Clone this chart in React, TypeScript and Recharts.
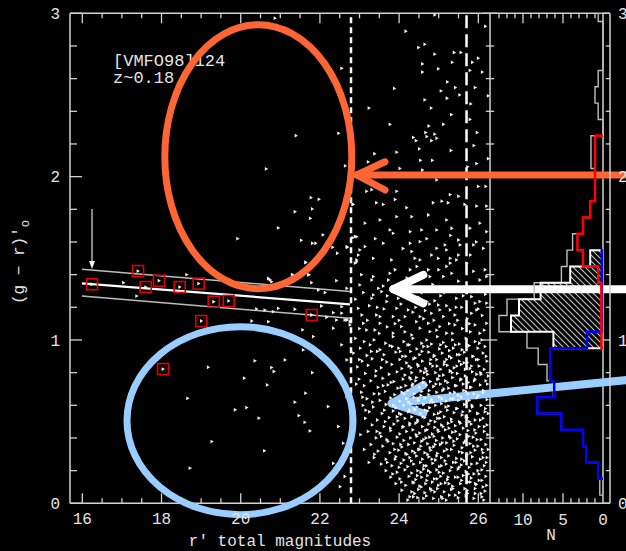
import React from 'react';
import { ComposedChart, XAxis, YAxis, Scatter, ReferenceLine, ReferenceDot, ReferenceArea } from 'recharts';

const FONT = '"Liberation Mono", "DejaVu Sans Mono", monospace';
const INK = '#e4e4e4';
const FRAME = '#d2d2d2';

// ---------- axes ----------
const MAG_DOMAIN: [number, number] = [15.689, 29.325];
const N_DOMAIN: [number, number] = [-0.875, 66.625];
const COLOR_DOMAIN: [number, number] = [0, 3];
const PANEL_SPLIT_MAG = 26.295;
const PX_PER_MAG = 39.6;
const PX_PER_COLOR = 163.33;
const PX_PER_N = 8;

const MAG_LABELS = [16, 18, 20, 22, 24, 26];
const MAG_TICKS = [16, 16.5, 17, 17.5, 18, 18.5, 19, 19.5, 20, 20.5, 21, 21.5, 22, 22.5, 23, 23.5, 24, 24.5, 25, 25.5, 26];
const COLOR_LABELS = [0, 1, 2, 3];
const COLOR_TICKS = [0, 0.2, 0.4, 0.6, 0.8, 1, 1.2, 1.4, 1.6, 1.8, 2, 2.2, 2.4, 2.6, 2.8, 3];
const N_LABELS = [0, 5, 10];
const N_TICKS = [1, 2, 3, 4, 5, 6, 7, 8, 9, 10, 11, 12, 13];

// ---------- galaxies: [r' mag, (g-r) colour] ----------
const FIELD_BRIGHT: number[][] = [
  [17.04, 1.351], [17.373, 1.269], [18.636, 1.40], [20.70, 1.377], [20.78, 1.357], [21.30, 1.398], [21.71, 1.398],
  [21.64, 1.473], [21.79, 1.351], [22.42, 1.363], [21.96, 1.306], [22.13, 1.29], [20.40, 1.19], [20.61, 1.183],
  [20.82, 1.173], [20.95, 1.194], [21.37, 1.188], [22.04, 1.208], [22.34, 1.167], [22.55, 1.204], [20.28, 1.116],
  [20.70, 1.112], [22.17, 1.139], [22.42, 1.122], [22.63, 1.122], [20.74, 1.368],
  [21.565, 1.062], [21.835, 1.021], [21.58, 0.939], [20.36, 0.872], [21.12, 0.878], [19.18, 0.833], [20.78, 0.831],
  [20.84, 0.807], [21.81, 0.80], [20.09, 0.766], [20.67, 0.725], [21.64, 0.674], [18.66, 0.643], [21.37, 0.619],
  [19.86, 0.572], [20.15, 0.586], [21.47, 0.537], [20.46, 0.521], [21.62, 0.496], [21.75, 0.443], [19.27, 0.378],
  [20.60, 0.321], [18.72, 0.215],
  [22.55, 1.164], [22.68, 1.123], [22.76, 1.113], [22.34, 1.072], [22.55, 0.97], [22.68, 0.878], [22.51, 0.756],
  [22.68, 0.653], [22.21, 0.592], [22.47, 0.47], [22.59, 0.368], [22.34, 0.245], [22.63, 0.164], [22.51, 0.102],
  [21.397, 2.251], [22.475, 2.265], [20.646, 2.047], [21.775, 1.871], [21.977, 1.861], [21.808, 1.802], [21.371, 1.785],
  [21.758, 1.745], [20.949, 1.686], [22.078, 1.643], [19.924, 1.62], [21.53, 1.61], [21.808, 1.592], [21.894, 1.592],
  [22.439, 1.531], [21.641, 1.476], [21.725, 1.40], [21.313, 1.40], [20.697, 1.375], [22.323, 1.567], [22.692, 1.567],
  [22.83, 1.831], [22.83, 1.626], [22.93, 1.632], [22.97, 1.52], [22.93, 1.479], [22.55, 2.663], [20.866, 2.97],
];

const FIELD_UPPER: number[][] = [
  [24.17, 2.89], [24.49, 2.79], [24.65, 2.81], [24.90, 2.75], [25.39, 2.76], [25.56, 2.76], [24.59, 2.69], [25.34, 2.70],
  [24.59, 2.64], [24.99, 2.66], [25.22, 2.58], [23.88, 2.54], [25.06, 2.525], [25.42, 2.545], [25.53, 2.50], [25.21, 2.48],
  [24.65, 2.47], [24.81, 2.42], [23.24, 2.42], [25.32, 2.38], [23.77, 2.32], [24.75, 2.31], [25.12, 2.32], [24.67, 2.27],
  [24.36, 2.24], [24.70, 2.245], [24.90, 2.26], [24.95, 2.235], [24.43, 2.22], [24.82, 2.22], [23.38, 2.14], [23.94, 2.15],
  [24.51, 2.17], [25.31, 2.16], [24.54, 2.10], [24.84, 2.10], [23.22, 2.09], [22.64, 2.066], [24.02, 2.05], [24.59, 2.04],
  [26.18, 2.92], [26.0, 2.725], [25.85, 2.70], [25.79, 2.65], [26.10, 2.64], [25.92, 2.545], [25.81, 2.445], [25.79, 2.35],
  [25.97, 2.27], [25.89, 2.19], [25.96, 2.08], [25.73, 2.06], [26.25, 2.11], [26.25, 2.495], [24.90, 2.99],
];

const FIELD_MID: number[][] = [
  [23.18, 1.91], [23.31, 1.92], [23.94, 1.91], [23.90, 1.86], [24.95, 1.98], [25.29, 1.89], [25.50, 1.88], [26.00, 1.94],
  [26.19, 1.94], [22.84, 1.83], [23.43, 1.84], [23.60, 1.83], [24.19, 1.81], [24.86, 1.84], [25.08, 1.85], [25.24, 1.84],
  [25.66, 1.83], [25.96, 1.82], [26.21, 1.82], [23.14, 1.715], [23.52, 1.735], [23.77, 1.674], [23.85, 1.653], [23.94, 1.755],
  [24.32, 1.755], [24.74, 1.765], [25.20, 1.735], [25.33, 1.684], [24.95, 1.674], [24.57, 1.674], [24.28, 1.663], [25.79, 1.684],
  [26.04, 1.715], [26.21, 1.663], [22.89, 1.633], [23.14, 1.572], [23.01, 1.551], [23.60, 1.592], [24.28, 1.592], [24.32, 1.541],
  [24.53, 1.602], [24.95, 1.561], [25.16, 1.582], [25.20, 1.551], [25.50, 1.612], [25.54, 1.582], [25.88, 1.582], [26.13, 1.561],
  [22.68, 1.572], [22.93, 1.49], [23.35, 1.50], [23.81, 1.49], [24.40, 1.50], [24.53, 1.49], [24.82, 1.52], [24.99, 1.50],
  [25.29, 1.50], [25.45, 1.49], [25.50, 1.52], [25.20, 1.45], [25.29, 1.47], [25.71, 1.47], [24.74, 1.43], [25.88, 1.42],
  [26.17, 1.43], [24.28, 1.43], [22.89, 1.47], [23.35, 1.388], [23.31, 1.367], [23.73, 1.367], [23.77, 1.408], [23.90, 1.43],
  [24.28, 1.347], [24.78, 1.388], [25.12, 1.388], [25.33, 1.408], [26.04, 1.367], [23.01, 1.337], [22.68, 1.316], [23.48, 1.316],
  [23.56, 1.296], [26.21, 1.388], [23.31, 1.255], [23.35, 1.276], [23.69, 1.235], [23.98, 1.255], [24.28, 1.265], [24.70, 1.235],
  [24.99, 1.214], [25.45, 1.255], [25.83, 1.265], [25.92, 1.225], [26.04, 1.235], [26.21, 1.225], [22.97, 1.194], [23.06, 1.153],
  [23.43, 1.153], [23.52, 1.143], [23.85, 1.143], [23.94, 1.194], [24.23, 1.184], [24.15, 1.143], [24.53, 1.143], [24.82, 1.163],
  [25.03, 1.184], [25.12, 1.143], [25.41, 1.153], [25.29, 1.184], [25.83, 1.163], [25.96, 1.184], [22.68, 1.123], [22.76, 1.092],
  [23.10, 1.102], [23.18, 1.061], [23.52, 1.102], [23.39, 1.061], [24.06, 1.082], [23.85, 1.041], [24.44, 1.112], [24.53, 1.072],
  [24.74, 1.102], [24.78, 1.051], [25.03, 1.082], [25.20, 1.041], [25.41, 1.092], [25.92, 1.092], [26.04, 1.041], [26.21, 1.102],
  [24.32, 1.031], [23.25, 1.21], [23.62, 1.19], [24.05, 1.22], [24.42, 1.20], [24.66, 1.18], [24.9, 1.24], [25.2, 1.21],
  [25.58, 1.20], [25.72, 1.13], [26.1, 1.15], [23.0, 1.07], [23.7, 1.08], [24.0, 1.12], [24.62, 1.13], [24.95, 1.06],
  [25.35, 1.04], [25.6, 1.07], [25.8, 1.05], [26.15, 1.06], [23.5, 1.04], [24.15, 1.05], [25.48, 1.12], [22.9, 1.25],
  [24.5, 1.26], [25.15, 1.29], [25.65, 1.32], [24.0, 1.30], [23.1, 1.29],
  [23.2, 1.12], [23.45, 1.2], [23.7, 1.27], [23.9, 1.1], [24.1, 1.27], [24.35, 1.17], [24.58, 1.29], [24.77, 1.22], [24.88, 1.12],
  [25.05, 1.27], [25.27, 1.1], [25.44, 1.2], [25.62, 1.27], [25.78, 1.1], [26.0, 1.19], [26.18, 1.28], [23.6, 1.33], [24.2, 1.38],
  [24.85, 1.34], [25.5, 1.36], [25.9, 1.31], [23.05, 1.4], [24.45, 1.45], [25.0, 1.43], [25.8, 1.52], [24.1, 1.56], [23.4, 1.62],
  [24.7, 1.62], [25.3, 1.64], [25.95, 1.6],
];

const FIELD_FAINT: number[][] = [
  [22.9, 1.01], [23.12, 0.99], [23.37, 1.0], [23.66, 0.98], [23.85, 1.02], [24.12, 0.99], [24.35, 1.01], [24.57, 0.98], [24.7, 1.0], [24.97, 1.02], [25.12, 0.985], [25.35, 1.0], [25.52, 0.975], [25.69, 1.01], [25.92, 0.99], [26.09, 1.0],
  [23.02, 0.95], [23.27, 0.97], [23.52, 0.94], [23.77, 0.965], [23.99, 0.95], [24.22, 0.97], [24.45, 0.945], [24.62, 0.96], [24.82, 0.975], [25.02, 0.945], [25.19, 0.96], [25.42, 0.97], [25.59, 0.94], [25.77, 0.965], [25.99, 0.95], [26.17, 0.96],
  [22.85, 0.92], [23.19, 0.905], [23.45, 0.93], [23.62, 0.91], [23.92, 0.925], [24.09, 0.9], [24.29, 0.93], [24.52, 0.91], [24.75, 0.925], [24.89, 0.905], [25.09, 0.92], [25.27, 0.935], [25.47, 0.91], [25.65, 0.925], [25.87, 0.9], [26.12, 0.92],
  [23.07, 0.87], [23.32, 0.885], [23.69, 0.865], [24.02, 0.88], [24.19, 0.86], [24.37, 0.885], [24.59, 0.87], [24.79, 0.855], [24.95, 0.88], [25.15, 0.865], [25.32, 0.89], [25.52, 0.87], [25.72, 0.86], [25.95, 0.88], [26.22, 0.87],
  [22.95, 0.835], [23.22, 0.845], [23.55, 0.83], [23.82, 0.85], [24.07, 0.825], [24.25, 0.84], [24.47, 0.85], [24.67, 0.825], [24.85, 0.84], [25.05, 0.82], [25.22, 0.845], [25.39, 0.83], [25.57, 0.85], [25.79, 0.825], [26.02, 0.84], [26.15, 0.82],
  [23.15, 0.795], [23.42, 0.81], [23.75, 0.79], [23.95, 0.805], [24.15, 0.785], [24.32, 0.8], [24.55, 0.81], [24.72, 0.79], [24.92, 0.8], [25.12, 0.785], [25.29, 0.81], [25.47, 0.795], [25.67, 0.78], [25.85, 0.805], [26.07, 0.79],
  [22.99, 0.76], [23.29, 0.75], [23.59, 0.765], [23.87, 0.745], [24.1, 0.76], [24.27, 0.77], [24.42, 0.75], [24.62, 0.765], [24.79, 0.745], [24.99, 0.76], [25.17, 0.75], [25.35, 0.77], [25.55, 0.755], [25.75, 0.74], [25.92, 0.76], [26.19, 0.75],
  [23.12, 0.72], [23.47, 0.71], [23.72, 0.725], [23.97, 0.705], [24.17, 0.72], [24.35, 0.73], [24.52, 0.71], [24.69, 0.725], [24.87, 0.715], [25.04, 0.73], [25.25, 0.705], [25.42, 0.72], [25.62, 0.73], [25.82, 0.71], [26.05, 0.725],
  [23.05, 0.68], [23.37, 0.67], [23.65, 0.685], [23.89, 0.665], [24.07, 0.68], [24.22, 0.69], [24.39, 0.67], [24.57, 0.685], [24.75, 0.665], [24.95, 0.68], [25.1, 0.69], [25.29, 0.675], [25.49, 0.66], [25.69, 0.685], [25.89, 0.67], [26.12, 0.68],
  [23.19, 0.64], [23.52, 0.63], [23.79, 0.645], [24.02, 0.625], [24.19, 0.64], [24.37, 0.65], [24.49, 0.63], [24.65, 0.645], [24.82, 0.635], [25.02, 0.65], [25.19, 0.625], [25.37, 0.64], [25.57, 0.65], [25.77, 0.63], [25.97, 0.645], [26.22, 0.635],
  [23.09, 0.6], [23.35, 0.59], [23.67, 0.605], [23.92, 0.585], [24.12, 0.6], [24.29, 0.61], [24.45, 0.59], [24.62, 0.605], [24.77, 0.585], [24.92, 0.6], [25.07, 0.61], [25.25, 0.595], [25.45, 0.58], [25.65, 0.605], [25.85, 0.59], [26.07, 0.6],
  [23.25, 0.56], [23.57, 0.55], [23.85, 0.565], [24.05, 0.545], [24.24, 0.56], [24.4, 0.57], [24.55, 0.55], [24.72, 0.565], [24.89, 0.545], [25.05, 0.56], [25.22, 0.57], [25.39, 0.555], [25.59, 0.54], [25.79, 0.565], [25.99, 0.55], [26.17, 0.56],
  [23.15, 0.52], [23.45, 0.51], [23.75, 0.525], [23.97, 0.505], [24.15, 0.52], [24.32, 0.53], [24.47, 0.51], [24.65, 0.525], [24.8, 0.505], [24.97, 0.52], [25.14, 0.53], [25.32, 0.515], [25.52, 0.5], [25.72, 0.525], [25.92, 0.51], [26.12, 0.52],
  [23.32, 0.48], [23.62, 0.47], [23.87, 0.485], [24.09, 0.465], [24.27, 0.48], [24.42, 0.49], [24.59, 0.47], [24.75, 0.485], [24.9, 0.465], [25.07, 0.48], [25.24, 0.49], [25.42, 0.475], [25.62, 0.46], [25.82, 0.485], [26.02, 0.47], [26.22, 0.48],
  [23.22, 0.44], [23.52, 0.43], [23.79, 0.445], [24.02, 0.425], [24.19, 0.44], [24.35, 0.45], [24.52, 0.43], [24.67, 0.445], [24.84, 0.425], [25.0, 0.44], [25.17, 0.45], [25.35, 0.435], [25.54, 0.42], [25.74, 0.445], [25.94, 0.43], [26.15, 0.44],
  [23.42, 0.4], [23.69, 0.39], [23.95, 0.405], [24.12, 0.385], [24.29, 0.4], [24.45, 0.41], [24.62, 0.39], [24.77, 0.405], [24.94, 0.385], [25.1, 0.4], [25.27, 0.41], [25.47, 0.395], [25.67, 0.38], [25.87, 0.405], [26.07, 0.39],
  [23.29, 0.36], [23.59, 0.35], [23.85, 0.365], [24.07, 0.345], [24.24, 0.36], [24.39, 0.37], [24.55, 0.35], [24.72, 0.365], [24.87, 0.345], [25.04, 0.36], [25.2, 0.37], [25.39, 0.355], [25.59, 0.34], [25.79, 0.365], [25.99, 0.35], [26.19, 0.36],
  [23.47, 0.32], [23.77, 0.31], [23.99, 0.325], [24.17, 0.305], [24.34, 0.32], [24.49, 0.33], [24.65, 0.31], [24.8, 0.325], [24.97, 0.305], [25.14, 0.32], [25.32, 0.33], [25.52, 0.315], [25.72, 0.3], [25.92, 0.325], [26.12, 0.31],
  [23.37, 0.28], [23.67, 0.27], [23.92, 0.285], [24.12, 0.265], [24.27, 0.28], [24.44, 0.29], [24.59, 0.27], [24.75, 0.285], [24.92, 0.265], [25.07, 0.28], [25.25, 0.29], [25.45, 0.275], [25.65, 0.26], [25.85, 0.285], [26.05, 0.27], [26.22, 0.28],
  [23.55, 0.24], [23.82, 0.23], [24.05, 0.245], [24.22, 0.225], [24.37, 0.24], [24.54, 0.25], [24.69, 0.23], [24.85, 0.245], [25.02, 0.225], [25.19, 0.24], [25.37, 0.25], [25.57, 0.235], [25.77, 0.22], [25.97, 0.245], [26.15, 0.23],
  [23.67, 0.2], [23.95, 0.19], [24.15, 0.205], [24.32, 0.185], [24.47, 0.2], [24.62, 0.21], [24.79, 0.19], [24.95, 0.205], [25.12, 0.185], [25.29, 0.2], [25.49, 0.21], [25.69, 0.195], [25.89, 0.18], [26.09, 0.205],
  [23.79, 0.16], [24.02, 0.15], [24.25, 0.165], [24.42, 0.145], [24.57, 0.16], [24.72, 0.17], [24.89, 0.15], [25.05, 0.165], [25.22, 0.145], [25.42, 0.16], [25.62, 0.17], [25.82, 0.155], [26.02, 0.14], [26.19, 0.165],
  [23.92, 0.12], [24.17, 0.11], [24.37, 0.125], [24.52, 0.105], [24.67, 0.12], [24.84, 0.13], [24.99, 0.11], [25.17, 0.125], [25.35, 0.105], [25.55, 0.12], [25.75, 0.13], [25.95, 0.115], [26.12, 0.1],
  [24.07, 0.08], [24.32, 0.07], [24.49, 0.085], [24.65, 0.065], [24.82, 0.08], [24.97, 0.09], [25.14, 0.07], [25.32, 0.085], [25.52, 0.065], [25.72, 0.08], [25.92, 0.09], [26.17, 0.075],
  [24.27, 0.04], [24.47, 0.035], [24.69, 0.045], [24.87, 0.03], [25.07, 0.04], [25.27, 0.05], [25.49, 0.035], [25.69, 0.045], [25.89, 0.03], [26.09, 0.04],
];

const FIELD_FAINT_EXTRA: number[][] = [
  [24.03, 0.93], [24.05, 0.71], [24.01, 0.55], [24.04, 0.36], [24.0, 0.22], [24.06, 0.13],
  [24.26, 0.97], [24.3, 0.83], [24.24, 0.62], [24.27, 0.49], [24.31, 0.26], [24.22, 0.02],
  [24.41, 0.89], [24.44, 0.77], [24.38, 0.58], [24.43, 0.42], [24.4, 0.31], [24.46, 0.17], [24.39, 0.06],
  [24.58, 0.93], [24.61, 0.74], [24.55, 0.66], [24.6, 0.53], [24.57, 0.38], [24.63, 0.23], [24.56, 0.1],
  [24.73, 0.96], [24.7, 0.81], [24.76, 0.69], [24.71, 0.45], [24.78, 0.34], [24.74, 0.2], [24.7, 0.14],
  [24.88, 0.9], [24.93, 0.73], [24.86, 0.62], [24.91, 0.5], [24.88, 0.41], [24.95, 0.29], [24.9, 0.07],
  [25.05, 0.97], [25.02, 0.78], [25.08, 0.64], [25.03, 0.52], [25.09, 0.37], [25.01, 0.19], [25.06, 0.12],
  [25.2, 0.88], [25.23, 0.74], [25.18, 0.59], [25.26, 0.46], [25.21, 0.33], [25.24, 0.16], [25.19, 0.02],
  [25.37, 0.95], [25.34, 0.8], [25.4, 0.68], [25.33, 0.5], [25.38, 0.38], [25.44, 0.25], [25.36, 0.09],
  [25.53, 0.91], [25.57, 0.76], [25.5, 0.63], [25.55, 0.49], [25.6, 0.31], [25.52, 0.22], [25.58, 0.14],
  [25.71, 0.97], [25.67, 0.82], [25.74, 0.67], [25.69, 0.53], [25.76, 0.41], [25.7, 0.29], [25.73, 0.06],
  [25.86, 0.9], [25.9, 0.75], [25.84, 0.6], [25.91, 0.45], [25.88, 0.35], [25.83, 0.24], [25.93, 0.12],
  [26.03, 0.98], [26.06, 0.8], [26.0, 0.66], [26.05, 0.51], [26.1, 0.33], [26.02, 0.18], [26.07, 0.06],
  [26.2, 0.9], [26.23, 0.73], [26.18, 0.58], [26.24, 0.42], [26.2, 0.25], [26.21, 0.11],
  [23.3, 0.93], [23.41, 0.78], [23.33, 0.62], [23.44, 0.44], [23.38, 0.3],
  [23.58, 0.88], [23.6, 0.72], [23.63, 0.57], [23.55, 0.41], [23.7, 0.25],
  [23.83, 0.96], [23.8, 0.74], [23.86, 0.6], [23.78, 0.46], [23.89, 0.33], [23.84, 0.18],
  [23.0, 0.88], [23.08, 0.65], [23.03, 0.42], [23.16, 0.57], [22.92, 0.73], [23.12, 0.33], [23.24, 0.25],
  [24.33, 0.72], [24.48, 0.64], [24.52, 0.33], [24.35, 0.13], [24.47, 0.5], [24.66, 0.57], [24.68, 0.4], [24.62, 0.03],
  [24.8, 0.62], [24.83, 0.27], [24.79, 0.09], [24.97, 0.76], [24.99, 0.55], [24.98, 0.45], [24.96, 0.15], [25.13, 0.7],
  [25.11, 0.47], [25.16, 0.26], [25.1, 0.03], [25.29, 0.81], [25.31, 0.64], [25.3, 0.4], [25.33, 0.22], [25.45, 0.72],
  [25.47, 0.58], [25.43, 0.44], [25.49, 0.16], [25.63, 0.69], [25.61, 0.56], [25.64, 0.37], [25.66, 0.09], [25.8, 0.71],
  [25.78, 0.5], [25.81, 0.31], [25.8, 0.13], [25.96, 0.79], [25.98, 0.55], [25.97, 0.39], [25.99, 0.2], [26.13, 0.69],
  [26.15, 0.47], [26.12, 0.28], [26.14, 0.02], [24.26, 0.57], [24.2, 0.3], [24.11, 0.47], [24.13, 0.67], [24.17, 0.9],
  [24.36, 0.04], [24.55, 0.19], [24.72, 0.3], [24.91, 0.36], [25.07, 0.23], [25.26, 0.12], [25.42, 0.05], [25.58, 0.27],
  [25.75, 0.18], [25.92, 0.06], [26.09, 0.14], [26.25, 0.33], [26.25, 0.55], [26.25, 0.78], [26.0, 0.88], [25.83, 0.84],
  [25.64, 0.86], [25.46, 0.84], [25.27, 0.9], [25.14, 0.85], [24.96, 0.84], [24.8, 0.88], [24.64, 0.8], [24.49, 0.84],
  [24.3, 0.76], [23.95, 0.53], [23.72, 0.38], [23.9, 0.27], [23.65, 0.5], [23.5, 0.67],
];

// brightest cluster galaxy candidates (red boxes)
const BCG: number[][] = [
  [16.245, 1.341], [17.407, 1.422], [17.601, 1.324], [17.937, 1.363], [18.46, 1.324], [18.939, 1.345],
  [19.318, 1.234], [19.697, 1.239], [19.005, 1.116], [21.793, 1.153], [18.038, 0.822],
];

// colour-magnitude relation (centre and +/- envelope): [mag, colour]
const CMR_MID = [[15.99, 1.347], [22.76, 1.218]];
const CMR_UP = [[15.99, 1.433], [22.76, 1.296]];
const CMR_LO = [[15.99, 1.269], [22.76, 1.133]];
const RS_MARKER = { mag: 16.245, from: 1.802, to: 1.434 };
const LIMIT_DOTTED = 22.785;
const LIMIT_DASHED = 25.702;

// ---------- colour histograms (N per 0.1 bin, bins from 3.0 down to 0.0) ----------
const COLOR_BINS = [3.0, 2.9, 2.8, 2.7, 2.6, 2.5, 2.4, 2.3, 2.2, 2.1, 2.0, 1.9, 1.8, 1.7, 1.6, 1.5, 1.4, 1.3, 1.2, 1.1, 1.0, 0.9, 0.8, 0.7, 0.6, 0.5, 0.4, 0.3, 0.2, 0.1, 0.0];
const BIN_HALF = 0.05;
const HIST_ALL = [0.6, 0, 0, 0, 0.6, 1.0, 0.6, 0, 1.5, 1.5, 1.0, 1.0, 1.6, 2.5, 3.8, 4.5, 5.2, 8.6, 12.0, 13.0, 9.5, 8.1, 7.0, 6.2, 8.2, 5.2, 2.5, 2.1, 0.6, 0.4, 0];
const HIST_RED_SEQ = [0, 0, 0, 0, 0, 0, 0, 0, 0, 0, 0, 0, 0, 0, 0, 1.6, 4.1, 7.8, 10.5, 11.5, 6.2, 0, 0, 0, 0, 0, 0, 0, 0, 0, 0];
const HIST_RED = [0, 0, 0, 0, 0, 0, 0, 0, 1.0, 1.0, 1.0, 1.0, 1.6, 2.5, 3.2, 2.5, 0.6, 0.2, 0.2, 0.2, 0.2, 0, 0, 0, 0, 0, 0, 0, 0, 0, 0];
const HIST_BLUE = [0, 0, 0, 0, 0, 0, 0, 0, 0, 0, 0, 0, 0, 0, 0, 0.15, 0.15, 0.15, 0.15, 0.15, 2.0, 6.6, 6.6, 6.1, 8.2, 5.2, 2.5, 2.1, 0.6, 0, 0];

// ---------- annotations (data coordinates) ----------
const ORANGE = '#ff6633';
const SKY = '#99ccff';
const ELLIPSE_RED = { mag: 20.444, color: 2.122, dMag: 2.361, dColor: 0.808 };
const ELLIPSE_BLUE = { mag: 19.982, color: 0.506, dMag: 2.854, dColor: 0.5755 };
const ARROW_RED = { tail: [30.1, 2.01], tip: [22.929, 2.01], arms: [[23.644, 2.091], [23.644, 1.918]] };
const ARROW_WHITE = { tail: [30.1, 1.311], tip: [23.854, 1.311], arms: [[24.611, 1.398], [24.611, 1.224]] };
const ARROW_BLUE = { tail: [30.1, 0.763], tip: [23.813, 0.612], arms: [[24.611, 0.724], [24.611, 0.551]] };

const toPts = (arr: number[][]) => arr.map(([m, c]) => ({ m, c }));

function stepOutline(values: number[]) {
  const first = values.findIndex((v) => v > 0);
  let last = values.length - 1;
  while (last >= 0 && values[last] <= 0) last--;
  const pts: { n: number; c: number }[] = [];
  pts.push({ n: 0, c: Math.min(3, COLOR_BINS[first] + BIN_HALF) });
  for (let i = first; i <= last; i++) {
    const hi = Math.min(3, COLOR_BINS[i] + BIN_HALF);
    const lo = Math.max(0, COLOR_BINS[i] - BIN_HALF);
    pts.push({ n: values[i], c: hi }, { n: values[i], c: lo });
  }
  pts.push({ n: 0, c: Math.max(0, COLOR_BINS[last] - BIN_HALF) });
  return pts;
}

const tri = (cx: number, cy: number) => `M${cx - 1.4},${cy - 1.9}L${cx + 1.9},${cy}L${cx - 1.4},${cy + 1.9}Z`;
const Galaxy = (p: any) => <path d={tri(p.cx, p.cy)} fill="#f4f4f4" />;
const BoxedGalaxy = (p: any) => (
  <g>
    <rect x={p.cx - 5.5} y={p.cy - 5.5} width={11} height={11} fill="none" stroke="#e00000" strokeWidth={1.6} />
    <path d={tri(p.cx, p.cy)} fill="#f4f4f4" />
  </g>
);
const NoMark = () => <g />;

const ellipseShape = (e: { dMag: number; dColor: number }, color: string) => (p: any) => (
  <ellipse cx={p.cx} cy={p.cy} rx={e.dMag * PX_PER_MAG} ry={e.dColor * PX_PER_COLOR} fill="none" stroke={color} strokeWidth={7} />
);
const ArrowDownHead = (p: any) => (
  <path d={`M${p.cx - 3},${p.cy - 8}L${p.cx + 3},${p.cy - 8}L${p.cx},${p.cy}Z`} fill="#f2f2f2" />
);

const axisTick = { fill: INK, fontSize: 16, fontFamily: FONT };
const RL = { xAxisId: 'm', yAxisId: 'c', ifOverflow: 'visible' as const };
const RN = { xAxisId: 'n', yAxisId: 'c', ifOverflow: 'visible' as const };

function arrow(a: { tail: number[]; tip: number[]; arms: number[][] }, color: string, w: number, key: string) {
  return [
    <ReferenceLine key={key + 's'} {...RL} segment={[{ x: a.tail[0], y: a.tail[1] }, { x: a.tip[0], y: a.tip[1] }]} stroke={color} strokeWidth={w} />,
    ...a.arms.map((arm, i) => (
      <ReferenceLine key={key + 'a' + i} {...RL} segment={[{ x: a.tip[0], y: a.tip[1] }, { x: arm[0], y: arm[1] }]} stroke={color} strokeWidth={w} strokeLinecap="round" />
    )),
  ];
}

export default function App() {
  const majorV = 12, minorV = 7, majorH = 10, minorH = 5;
  return (
    <div style={{ position: 'fixed', left: 0, top: 0, width: 626, height: 551, background: '#000', overflow: 'hidden' }}>
      <ComposedChart width={626} height={551} margin={{ top: 13.3, right: 0, bottom: 45.7, left: 0 }}>
        <defs>
          <pattern id="hatch" patternUnits="userSpaceOnUse" width={6} height={6}>
            <path d="M-1,-1L7,7M-1,5L1,7M5,-1L7,1" stroke="#c4c4c4" strokeWidth={1.1} />
          </pattern>
        </defs>
        <XAxis xAxisId="m" dataKey="m" type="number" domain={MAG_DOMAIN} allowDataOverflow ticks={MAG_LABELS} height={1}
          axisLine={{ stroke: FRAME, strokeWidth: 1.5 }} tickLine={false} tickMargin={3} tick={axisTick} interval={0} />
        <XAxis xAxisId="n" dataKey="n" type="number" domain={N_DOMAIN} reversed allowDataOverflow ticks={N_LABELS} height={1}
          axisLine={false} tickLine={false} tickMargin={3} tick={axisTick} interval={0} />
        <YAxis yAxisId="c" dataKey="c" type="number" domain={COLOR_DOMAIN} allowDataOverflow ticks={COLOR_LABELS} width={70}
          axisLine={{ stroke: FRAME, strokeWidth: 1.5 }} tickLine={false} tickMargin={4} tick={axisTick} interval={0} />
        <YAxis yAxisId="r" orientation="right" type="number" domain={COLOR_DOMAIN} allowDataOverflow ticks={COLOR_LABELS} width={16}
          axisLine={{ stroke: FRAME, strokeWidth: 1.5 }} tickLine={false} tickMargin={2} tick={axisTick} interval={0} />

        {/* frame */}
        <ReferenceLine {...RL} y={3} stroke={FRAME} strokeWidth={1.5} />
        <ReferenceLine {...RL} x={PANEL_SPLIT_MAG} stroke={FRAME} strokeWidth={1.5} />
        <ReferenceLine {...RN} x={0} stroke={FRAME} strokeWidth={1.5} />

        {/* ticks: main panel horizontal axes */}
        {MAG_TICKS.map((m) => {
          const len = (MAG_LABELS.includes(m) ? majorH : minorH) / PX_PER_COLOR;
          return [
            <ReferenceLine key={'tb' + m} {...RL} segment={[{ x: m, y: 0 }, { x: m, y: len }]} stroke={FRAME} strokeWidth={1.3} />,
            <ReferenceLine key={'tt' + m} {...RL} segment={[{ x: m, y: 3 }, { x: m, y: 3 - len }]} stroke={FRAME} strokeWidth={1.3} />,
          ];
        })}
        {/* ticks: vertical axes */}
        {COLOR_TICKS.map((c) => {
          const lenPx = COLOR_LABELS.includes(c) ? majorV : minorV;
          return [
            <ReferenceLine key={'tl' + c} {...RL} segment={[{ x: MAG_DOMAIN[0], y: c }, { x: MAG_DOMAIN[0] + lenPx / PX_PER_MAG, y: c }]} stroke={FRAME} strokeWidth={1.3} />,
            <ReferenceLine key={'td' + c} {...RL} segment={[{ x: PANEL_SPLIT_MAG - (lenPx * 0.6) / PX_PER_MAG, y: c }, { x: PANEL_SPLIT_MAG + (lenPx * 0.6) / PX_PER_MAG, y: c }]} stroke={FRAME} strokeWidth={1.3} />,
            <ReferenceLine key={'tr' + c} {...RN} segment={[{ x: N_DOMAIN[0], y: c }, { x: N_DOMAIN[0] + (lenPx * 0.6) / PX_PER_N, y: c }]} stroke={FRAME} strokeWidth={1.3} />,
          ];
        })}
        {/* ticks: histogram panel */}
        {N_TICKS.map((n) => {
          const len = (N_LABELS.includes(n) ? majorH : minorH) / PX_PER_COLOR;
          return [
            <ReferenceLine key={'nb' + n} {...RN} segment={[{ x: n, y: 0 }, { x: n, y: len }]} stroke={FRAME} strokeWidth={1.3} />,
            <ReferenceLine key={'nt' + n} {...RN} segment={[{ x: n, y: 3 }, { x: n, y: 3 - len }]} stroke={FRAME} strokeWidth={1.3} />,
          ];
        })}

        {/* completeness limits */}
        <ReferenceLine {...RL} x={LIMIT_DOTTED} stroke="#ffffff" strokeWidth={2.5} strokeDasharray="6 4" />
        <ReferenceLine {...RL} x={LIMIT_DASHED} stroke="#ffffff" strokeWidth={2.5} strokeDasharray="13 6" />

        {/* colour-magnitude relation */}
        <ReferenceLine {...RL} segment={[{ x: CMR_UP[0][0], y: CMR_UP[0][1] }, { x: CMR_UP[1][0], y: CMR_UP[1][1] }]} stroke="#bdbdbd" strokeWidth={1.5} />
        <ReferenceLine {...RL} segment={[{ x: CMR_LO[0][0], y: CMR_LO[0][1] }, { x: CMR_LO[1][0], y: CMR_LO[1][1] }]} stroke="#bdbdbd" strokeWidth={1.5} />
        <ReferenceLine {...RL} segment={[{ x: CMR_MID[0][0], y: CMR_MID[0][1] }, { x: CMR_MID[1][0], y: CMR_MID[1][1] }]} stroke="#ffffff" strokeWidth={2.2} />
        <ReferenceLine {...RL} segment={[{ x: RS_MARKER.mag, y: RS_MARKER.from }, { x: RS_MARKER.mag, y: RS_MARKER.to + 0.03 }]} stroke="#e0e0e0" strokeWidth={1.2} />
        <ReferenceDot {...RL} x={RS_MARKER.mag} y={RS_MARKER.to} r={3} shape={ArrowDownHead} />

        {/* galaxies */}
        <Scatter xAxisId="m" yAxisId="c" data={toPts(FIELD_FAINT)} shape={Galaxy} isAnimationActive={false} />
        <Scatter xAxisId="m" yAxisId="c" data={toPts(FIELD_FAINT_EXTRA)} shape={Galaxy} isAnimationActive={false} />
        <Scatter xAxisId="m" yAxisId="c" data={toPts(FIELD_MID)} shape={Galaxy} isAnimationActive={false} />
        <Scatter xAxisId="m" yAxisId="c" data={toPts(FIELD_UPPER)} shape={Galaxy} isAnimationActive={false} />
        <Scatter xAxisId="m" yAxisId="c" data={toPts(FIELD_BRIGHT)} shape={Galaxy} isAnimationActive={false} />
        <Scatter xAxisId="m" yAxisId="c" data={toPts(BCG)} shape={BoxedGalaxy} isAnimationActive={false} />

        {/* histograms */}
        {COLOR_BINS.map((c, i) =>
          HIST_RED_SEQ[i] > 0 ? (
            <ReferenceArea key={'h' + i} {...RN} x1={0} x2={HIST_RED_SEQ[i]} y1={Math.max(0, c - BIN_HALF)} y2={Math.min(3, c + BIN_HALF)} fill="url(#hatch)" fillOpacity={1} stroke="none" />
          ) : null
        )}
        <Scatter xAxisId="n" yAxisId="c" data={stepOutline(HIST_ALL)} shape={NoMark} line={{ stroke: '#bdbdbd', strokeWidth: 1.4 }} lineType="joint" isAnimationActive={false} />
        <Scatter xAxisId="n" yAxisId="c" data={stepOutline(HIST_RED_SEQ)} shape={NoMark} line={{ stroke: '#ffffff', strokeWidth: 2 }} lineType="joint" isAnimationActive={false} />
        <Scatter xAxisId="n" yAxisId="c" data={stepOutline(HIST_BLUE)} shape={NoMark} line={{ stroke: '#0000ff', strokeWidth: 2.5 }} lineType="joint" isAnimationActive={false} />
        <Scatter xAxisId="n" yAxisId="c" data={stepOutline(HIST_RED)} shape={NoMark} line={{ stroke: '#ff0000', strokeWidth: 2.5 }} lineType="joint" isAnimationActive={false} />

        {/* text */}
        <text x={113} y={66} fill={INK} fontSize={17} fontFamily={FONT}>[VMFO98]124</text>
        <text x={113} y={83} fill={INK} fontSize={17} fontFamily={FONT}>z~0.18</text>
        <text x={280} y={546} fill={INK} fontSize={16} fontFamily={FONT} textAnchor="middle">r′ total magnitudes</text>
        <text x={551} y={540} fill={INK} fontSize={16} fontFamily={FONT} textAnchor="middle">N</text>
        <text x={24} y={262} fill={INK} fontSize={16} fontFamily={FONT} textAnchor="middle" transform="rotate(-90 24 262)">
          (g − r)′<tspan fontSize={12} dy={5}>o</tspan>
        </text>

        {/* highlighted regions and arrows */}
        <ReferenceDot {...RL} x={ELLIPSE_RED.mag} y={ELLIPSE_RED.color} r={1} shape={ellipseShape(ELLIPSE_RED, ORANGE)} />
        <ReferenceDot {...RL} x={ELLIPSE_BLUE.mag} y={ELLIPSE_BLUE.color} r={1} shape={ellipseShape(ELLIPSE_BLUE, SKY)} />
        {arrow(ARROW_RED, ORANGE, 7, 'ar')}
        {arrow(ARROW_WHITE, '#ffffff', 8, 'aw')}
        {arrow(ARROW_BLUE, SKY, 8, 'ab')}
      </ComposedChart>
    </div>
  );
}
